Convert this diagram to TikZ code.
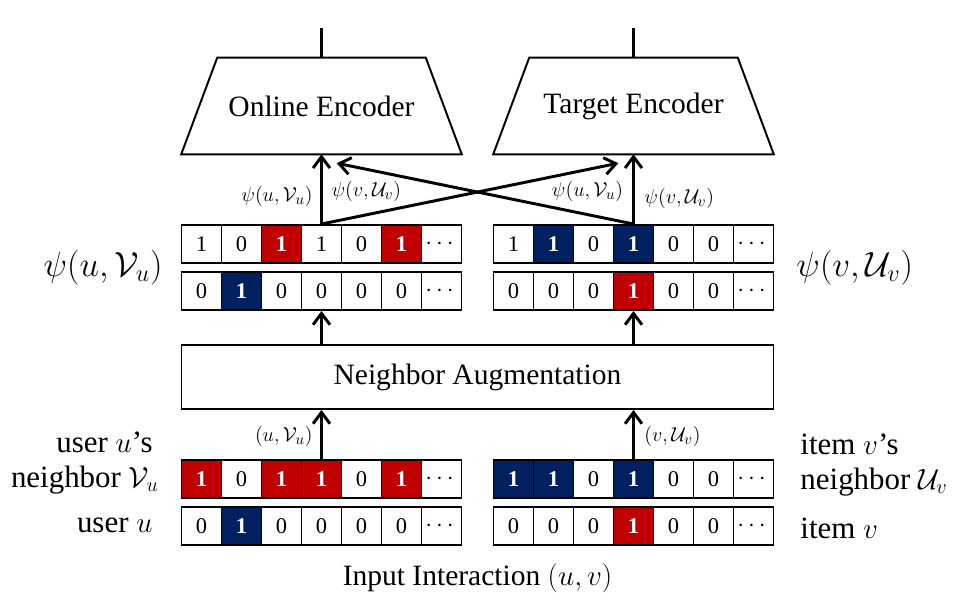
\documentclass[tikz,border=0pt]{standalone}
\usepackage{fontspec}
\setmainfont{Liberation Serif}
\usepackage{amsmath,amssymb}
\usepackage{xcolor}
\usepackage{tikz}
\usetikzlibrary{arrows.meta,positioning}
\definecolor{cred}{RGB}{192,0,0}
\definecolor{cblue}{RGB}{0,32,96}
\newcommand{\fsz}[1]{\fontsize{#1}{#1}\selectfont}
\newcommand{\hot}{\textbf{\color{white}1}}
\tikzset{
    cell/.style={draw, line width=1.4pt, minimum width=1cm, minimum height=0.95cm, inner sep=0pt, font=\fsz{16}},
    enc/.style={minimum width=7cm, minimum height=2.4cm, font=\fsz{21}},
    arr/.style={line width=2.1pt, -{Straight Barb[length=8pt,width=12pt]}},
    lab/.style={font=\fsz{15}},
    side/.style={font=\fsz{22}}
}

\begin{document}
\begin{tikzpicture}
    \useasboundingbox (-4.5375,0) rectangle (19.8375,15.2);
    \foreach \i/\c/\v in {1/white/1, 2/white/0, 3/cred/\hot, 4/white/1, 5/white/0, 6/cred/\hot, 7/white/$\cdots$}
        \node[cell, fill=\c] (pu\i) at (\i-0.5, 9.1) {\v};
    \foreach \i/\c/\v in {1/white/0, 2/cblue/\hot, 3/white/0, 4/white/0, 5/white/0, 6/white/0, 7/white/$\cdots$}
        \node[cell, fill=\c] (qu\i) at (\i-0.5, 7.925) {\v};
    \foreach \i/\c/\v in {1/white/1, 2/cblue/\hot, 3/white/0, 4/cblue/\hot, 5/white/0, 6/white/0, 7/white/$\cdots$}
        \node[cell, fill=\c] (pv\i) at (\i+7.3, 9.1) {\v};
    \foreach \i/\c/\v in {1/white/0, 2/white/0, 3/white/0, 4/cred/\hot, 5/white/0, 6/white/0, 7/white/$\cdots$}
        \node[cell, fill=\c] (qv\i) at (\i+7.3, 7.925) {\v};
    \foreach \i/\c/\v in {1/cred/\hot, 2/white/0, 3/cred/\hot, 4/cred/\hot, 5/white/0, 6/cred/\hot, 7/white/$\cdots$}
        \node[cell, fill=\c] (nu\i) at (\i-0.5, 3.225) {\v};
    \foreach \i/\c/\v in {1/white/0, 2/cblue/\hot, 3/white/0, 4/white/0, 5/white/0, 6/white/0, 7/white/$\cdots$}
        \node[cell, fill=\c] (iu\i) at (\i-0.5, 2.05) {\v};
    \foreach \i/\c/\v in {1/cblue/\hot, 2/cblue/\hot, 3/white/0, 4/cblue/\hot, 5/white/0, 6/white/0, 7/white/$\cdots$}
        \node[cell, fill=\c] (nv\i) at (\i+7.3, 3.225) {\v};
    \foreach \i/\c/\v in {1/white/0, 2/white/0, 3/white/0, 4/cred/\hot, 5/white/0, 6/white/0, 7/white/$\cdots$}
        \node[cell, fill=\c] (iv\i) at (\i+7.3, 2.05) {\v};

    \node[draw, line width=1.4pt, minimum width=14.8cm, minimum height=1.6cm, font=\fsz{21}] (aug) at (7.4,5.775) {Neighbor Augmentation};
    \node[enc] (enc1) at (3.5,12.55) {Online Encoder};
    \node[enc] (enc2) at (11.3,12.55) {Target Encoder};
    \foreach \e in {enc1, enc2}
        \draw[line width=1.4pt] (\e.south west) -- (\e.south east) -- ([xshift=-0.9cm]\e.north east) -- ([xshift=0.9cm]\e.north west) -- cycle;
    \coordinate (out1) at (3.5,14.5);
    \coordinate (out2) at (11.3,14.5);
    \coordinate (tipl) at (3.88,11.12);
    \coordinate (tipr) at (10.92,11.12);

    \draw[line width=2.1pt] (enc1.north) -- (out1);
    \draw[line width=2.1pt] (enc2.north) -- (out2);
    \draw[arr] (pu4.north) -- (enc1.south);
    \draw[arr] (pv4.north) -- (enc2.south);
    \draw[arr] (pv4.north) -- (tipl);
    \draw[arr] (pu4.north) -- (tipr);
    \draw[arr] (qu4.south |- aug.north) -- (qu4.south);
    \draw[arr] (qv4.south |- aug.north) -- (qv4.south);
    \draw[arr] (nu4.north) -- (nu4.north |- aug.south);
    \draw[arr] (nv4.north) -- (nv4.north |- aug.south);

    \node[lab, anchor=east] (lpu) at (3.4,10.28) {$\psi(u,\mathcal{V}_u)$};
    \node[lab] (lpv) at (4.62,10.42) {$\psi(v,\mathcal{U}_v)$};
    \node[lab] (rpu) at (10.15,10.42) {$\psi(u,\mathcal{V}_u)$};
    \node[lab, anchor=west] (rpv) at (11.45,10.25) {$\psi(v,\mathcal{U}_v)$};
    \node[lab, anchor=east] (lin) at (3.4,4.28) {$(u,\mathcal{V}_u)$};
    \node[lab, anchor=west] (rin) at (11.45,4.28) {$(v,\mathcal{U}_v)$};

    \node[side, font=\fsz{24}, anchor=east] (psiu) at (-0.35,8.5) {$\psi(u,\mathcal{V}_u)$};
    \node[side, font=\fsz{24}, anchor=west] (psiv) at (15.25,8.5) {$\psi(v,\mathcal{U}_v)$};
    \node[side, anchor=east] (nbu) at (-0.6,4.15) {user $u$’s};
    \node[side, anchor=east] (nbv) at (-0.45,3.2) {neighbor $\mathcal{V}_u$};
    \node[side, anchor=east] (usr) at (-0.6,2.07) {user $u$};
    \node[side, anchor=west] (itn) at (15.35,4.1) {item $v$’s};
    \node[side, anchor=west] (itv) at (15.35,3.15) {neighbor $\mathcal{U}_v$};
    \node[side, anchor=west] (itm) at (15.35,2.0) {item $v$};
    \node[font=\fsz{21}] (inp) at (7.4,0.75) {Input Interaction $(u,v)$};
\end{tikzpicture}
\end{document}
